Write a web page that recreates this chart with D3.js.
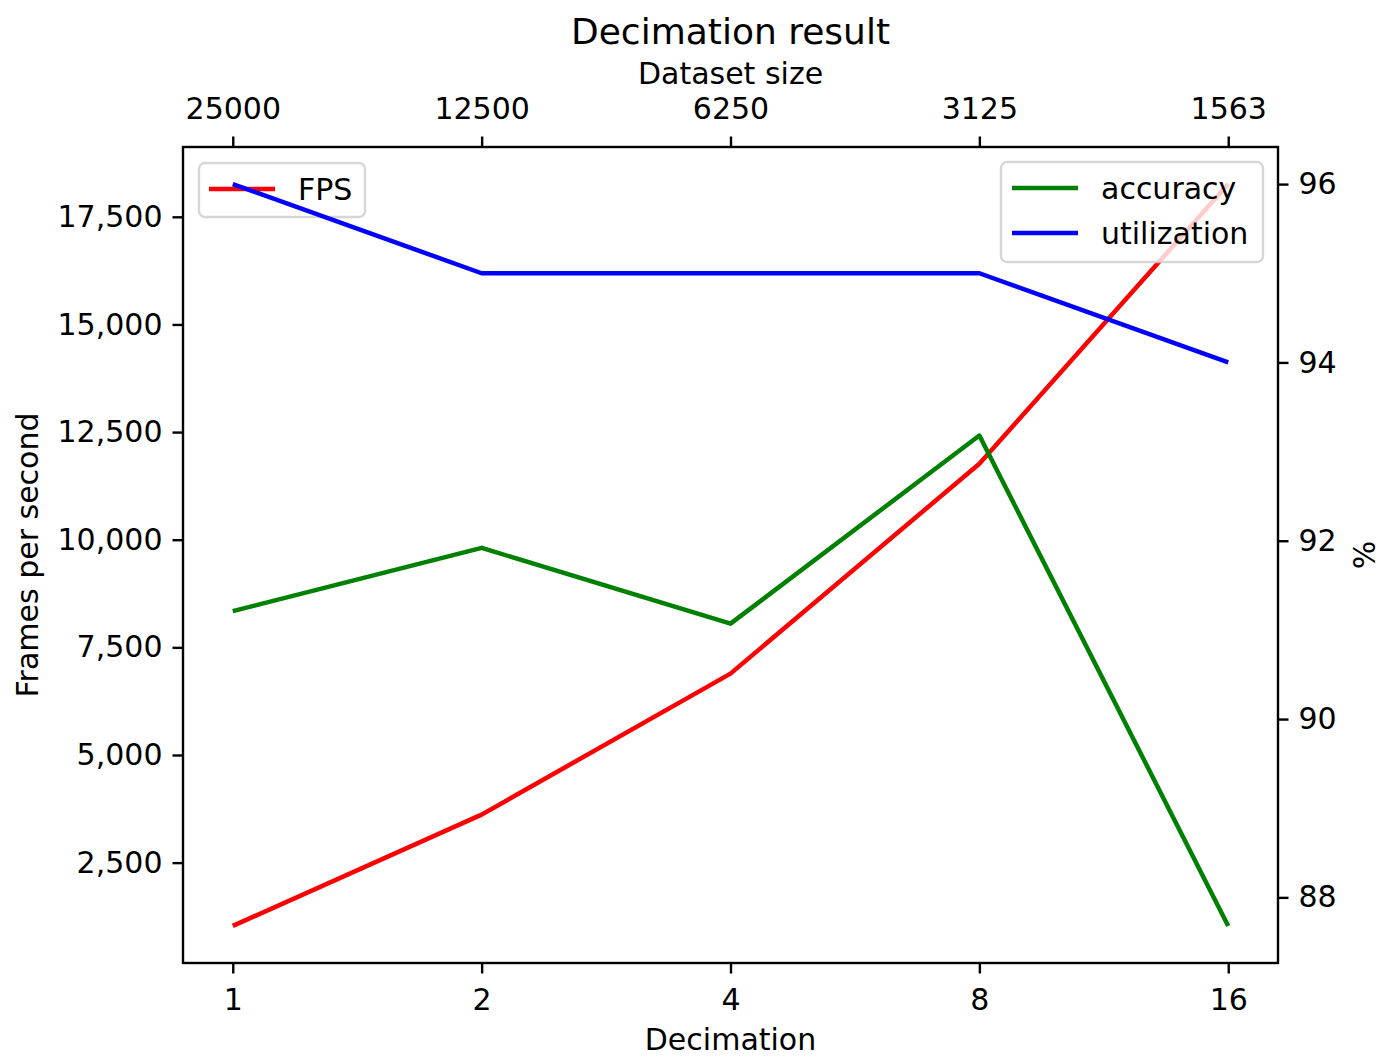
<!DOCTYPE html>
<html>
<head>
<meta charset="utf-8">
<script src="https://cdn.jsdelivr.net/npm/d3@7"></script>
<style>
  body { margin: 0; background: #fff; }
  text { font-family: "DejaVu Sans", sans-serif; }
</style>
</head>
<body>
<div id="chart"></div>
<script>
// data
const decimation = [1, 2, 4, 8, 16];
const datasetSize = ["25000", "12500", "6250", "3125", "1563"];
const fps = [1030, 3615, 6890, 11765, 18260];
const accuracy = [91.21, 91.92, 91.07, 93.18, 87.68];
const utilization = [96, 95, 95, 95, 94];
const leftTicks = [2500, 5000, 7500, 10000, 12500, 15000, 17500];
const rightTicks = [88, 90, 92, 94, 96];

const W = 1381, H = 1056;
const plot = {left: 183, right: 1278, top: 147, bottom: 963};

const svg = d3.select('#chart').append('svg')
    .attr('width', W)
    .attr('height', H);

svg.append('rect').attr('width', W).attr('height', H).attr('fill', 'white');

// matplotlib style 5% margins
function padded(lo, hi){
    const m = (hi - lo) * 0.05;
    return [lo - m, hi + m];
}

const x = d3.scaleLinear()
    .domain(padded(0, decimation.length - 1))
    .range([plot.left, plot.right]);

const yL = d3.scaleLinear()
    .domain(padded(d3.min(fps), d3.max(fps)))
    .range([plot.bottom, plot.top]);

const allPct = accuracy.concat(utilization);
const yR = d3.scaleLinear()
    .domain(padded(d3.min(allPct), d3.max(allPct)))
    .range([plot.bottom, plot.top]);

const tickLen = 10.5, tickW = 2.4, fs = 30;

function styleAxis(g){
    g.select('.domain').remove();
    g.selectAll('.tick line').attr('stroke', 'black').attr('stroke-width', tickW);
    g.selectAll('.tick text').attr('fill', 'black').style('font-size', fs + 'px')
        .style('font-family', '"DejaVu Sans", sans-serif');
}

// bottom axis
svg.append('g')
    .attr('transform', `translate(0,${plot.bottom})`)
    .call(d3.axisBottom(x).tickValues(d3.range(decimation.length))
        .tickFormat(i => decimation[i]).tickSize(tickLen).tickPadding(15))
    .call(styleAxis);

// top axis
svg.append('g')
    .attr('transform', `translate(0,${plot.top})`)
    .call(d3.axisTop(x).tickValues(d3.range(datasetSize.length))
        .tickFormat(i => datasetSize[i]).tickSize(tickLen).tickPadding(17.5))
    .call(styleAxis);

// left axis
svg.append('g')
    .attr('transform', `translate(${plot.left},0)`)
    .call(d3.axisLeft(yL).tickValues(leftTicks).tickFormat(d3.format(',')).tickSize(tickLen).tickPadding(10))
    .call(styleAxis);

// right axis
svg.append('g')
    .attr('transform', `translate(${plot.right},0)`)
    .call(d3.axisRight(yR).tickValues(rightTicks).tickSize(tickLen).tickPadding(10))
    .call(styleAxis);

const lineW = 4.5;

// FPS on the left axes
const lineL = d3.line().x((d, i) => x(i)).y(d => yL(d));
svg.append('path').datum(fps)
    .attr('d', lineL)
    .attr('fill', 'none')
    .attr('stroke', 'red')
    .attr('stroke-width', lineW)
    .attr('stroke-linejoin', 'round');

function legend(items, box, lineX, textX){
    svg.append('rect')
        .attr('x', box.x).attr('y', box.y)
        .attr('width', box.w).attr('height', box.h)
        .attr('rx', 6)
        .attr('fill', 'white').attr('fill-opacity', 0.8)
        .attr('stroke', '#cccccc').attr('stroke-opacity', 0.8).attr('stroke-width', 2.4);
    items.forEach((it, k) => {
        const yy = box.y + 26 + k * 45;
        svg.append('line')
            .attr('x1', lineX).attr('x2', lineX + 66)
            .attr('y1', yy).attr('y2', yy)
            .attr('stroke', it.color).attr('stroke-width', lineW);
        svg.append('text')
            .attr('x', textX).attr('y', yy + 11)
            .style('font-size', fs + 'px')
            .text(it.name);
    });
}

legend([{name: 'FPS', color: 'red'}], {x: 199, y: 163, w: 166, h: 54}, 209, 298);

// accuracy and utilization on the twin axes
const lineR = d3.line().x((d, i) => x(i)).y(d => yR(d));
svg.append('path').datum(accuracy)
    .attr('d', lineR)
    .attr('fill', 'none')
    .attr('stroke', 'green')
    .attr('stroke-width', lineW)
    .attr('stroke-linejoin', 'round');
svg.append('path').datum(utilization)
    .attr('d', lineR)
    .attr('fill', 'none')
    .attr('stroke', 'blue')
    .attr('stroke-width', lineW)
    .attr('stroke-linejoin', 'round');

legend([{name: 'accuracy', color: 'green'}, {name: 'utilization', color: 'blue'}],
    {x: 1001, y: 162, w: 262, h: 100}, 1012, 1101);

// frame
svg.append('rect')
    .attr('x', plot.left).attr('y', plot.top)
    .attr('width', plot.right - plot.left).attr('height', plot.bottom - plot.top)
    .attr('fill', 'none').attr('stroke', 'black').attr('stroke-width', 2.4);

// titles
svg.append('text')
    .attr('x', (plot.left + plot.right) / 2).attr('y', 44)
    .attr('text-anchor', 'middle')
    .style('font-size', '36px')
    .text('Decimation result');

svg.append('text')
    .attr('x', (plot.left + plot.right) / 2).attr('y', 84)
    .attr('text-anchor', 'middle')
    .style('font-size', fs + 'px')
    .text('Dataset size');

svg.append('text')
    .attr('x', (plot.left + plot.right) / 2).attr('y', 1050)
    .attr('text-anchor', 'middle')
    .style('font-size', fs + 'px')
    .text('Decimation');

svg.append('text')
    .attr('transform', `translate(38,${(plot.top + plot.bottom) / 2}) rotate(-90)`)
    .attr('text-anchor', 'middle')
    .style('font-size', fs + 'px')
    .text('Frames per second');

svg.append('text')
    .attr('transform', `translate(1375,${(plot.top + plot.bottom) / 2}) rotate(-90)`)
    .attr('text-anchor', 'middle')
    .style('font-size', fs + 'px')
    .text('%');
</script>
</body>
</html>
